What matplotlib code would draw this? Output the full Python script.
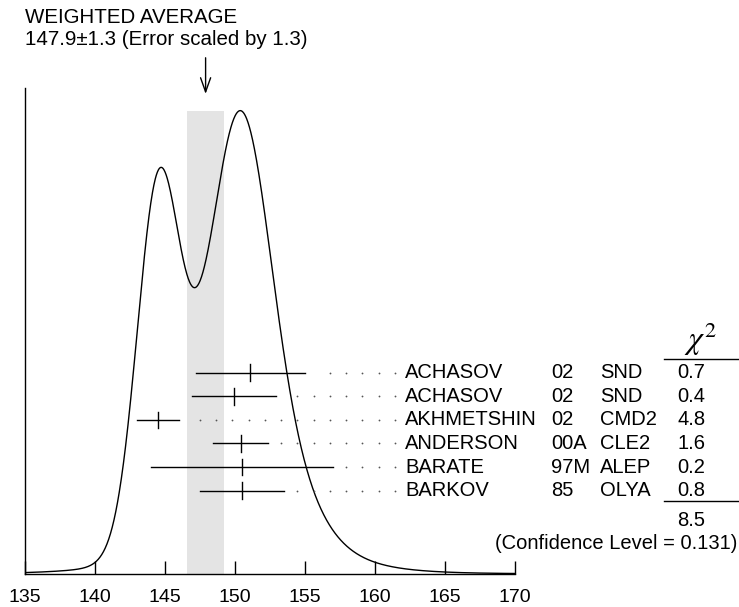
import matplotlib
matplotlib.use("Agg")
import matplotlib.pyplot as plt
import numpy as np

authors = ["ACHASOV", "ACHASOV", "AKHMETSHIN", "ANDERSON", "BARATE", "BARKOV"]
years = ["02", "02", "02", "00A", "97M", "85"]
experiments = ["SND", "SND", "CMD2", "CLE2", "ALEP", "OLYA"]
values = [151.1, 149.9, 144.5, 150.4, 150.5, 150.5]
errors = [3.9, 3.0, 1.53, 1.95, 6.5, 3.0]
chi2 = ["0.7", "0.4", "4.8", "1.6", "0.2", "0.8"]

avg = 147.9
avg_err = 1.3
scale_factor = 1.3
chi2_total = "8.5"
conf_level = "0.131"

plt.rcParams["font.family"] = ["Liberation Sans", "DejaVu Sans"]
plt.rcParams["font.size"] = 14.5

fig = plt.figure(figsize=(7.39, 6.07), dpi=100)
ax = fig.add_axes([25 / 739, 33.3 / 607, 490 / 739, 485.4 / 607])

# ideogram: each measurement is a gaussian with area proportional to 1/sigma
x = np.linspace(135, 170, 1400)
curve = np.zeros_like(x)
for v, e in zip(values, errors):
    curve += np.exp(-0.5 * ((x - v) / e) ** 2) / e ** 2
peak = 0.954
curve = curve / curve.max() * peak

ax.fill_between([avg - avg_err, avg + avg_err], 0, peak, color="#e4e4e4", lw=0, zorder=0)
ax.plot(x, curve, color="black", lw=1.0, zorder=2)

# measurement rows
row_y = 0.4141 - 0.0486 * np.arange(len(values))
dot_grid = np.arange(147.5, 161.5, 1.16)
for i, (v, e) in enumerate(zip(values, errors)):
    y = row_y[i]
    ax.plot([v - e, v + e], [y, y], color="black", lw=1.0, zorder=3)
    ax.plot([v, v], [y - 0.017, y + 0.017], color="black", lw=1.0, zorder=3)
    dots = dot_grid[dot_grid > v + e + 0.75]
    ax.plot(dots, [y] * len(dots), ls="none", marker="o", ms=1.3,
            color="#555555", mec="none", zorder=3)
    ax.text(162.14, y, authors[i], va="center", ha="left", clip_on=False)
    ax.text(172.6, y, years[i], va="center", ha="left", clip_on=False)
    ax.text(176.07, y, experiments[i], va="center", ha="left", clip_on=False)
    ax.text(182.6, y, chi2[i], va="center", ha="center", clip_on=False)

# chi2 column header, rules and total
ax.text(183.2, 0.445, r"$\chi^2$", ha="center", va="bottom", fontsize=23,
        math_fontfamily="stix", clip_on=False)
ax.plot([180.64, 186.2], [0.442, 0.442], color="black", lw=1.0, clip_on=False)
ax.plot([180.64, 186.2], [0.149, 0.149], color="black", lw=1.0, clip_on=False)
ax.text(182.6, 0.110, chi2_total, ha="center", va="center", clip_on=False)
ax.text(185.85, 0.063, f"(Confidence Level = {conf_level})", ha="right", va="center",
        clip_on=False)

# weighted average arrow and heading
ax.annotate("", xy=(avg, 0.9827), xytext=(avg, 1.0686),
            arrowprops=dict(arrowstyle="->,head_length=0.7,head_width=0.25",
                            color="black", lw=1.0),
            annotation_clip=False)
fig.text(25 / 739, (607 - 23.3) / 607, "WEIGHTED AVERAGE", ha="left", va="baseline",
         fontsize=14.8)
fig.text(25 / 739, (607 - 45) / 607,
         f"{avg}\u00b1{avg_err} (Error scaled by {scale_factor})", ha="left", va="baseline",
         fontsize=14.8)

ax.set_xlim(135, 170)
ax.set_ylim(0, 1)
ax.set_xticks(np.arange(135, 171, 5))
ax.set_yticks([])
ax.tick_params(axis="x", direction="in", length=9.5, width=1.0, pad=11, labelsize=14)
ax.spines["top"].set_visible(False)
ax.spines["right"].set_visible(False)
for s in ["left", "bottom"]:
    ax.spines[s].set_linewidth(1.0)

fig.savefig("out.png", dpi=100, facecolor="white")
